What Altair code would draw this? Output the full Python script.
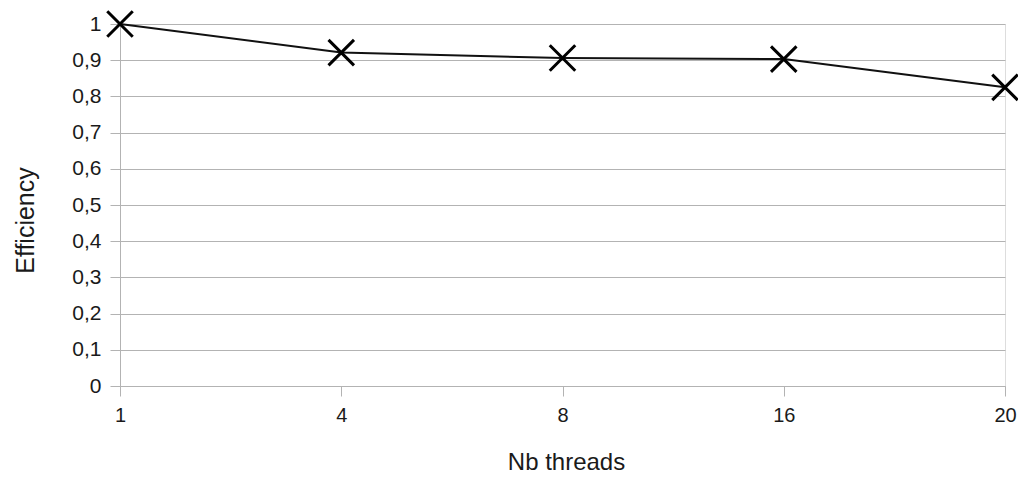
import altair as alt
import pandas as pd

threads = ["1", "4", "8", "16", "20"]
efficiency = [1.0, 0.921, 0.906, 0.903, 0.825]
y_ticks = [0, 0.1, 0.2, 0.3, 0.4, 0.5, 0.6, 0.7, 0.8, 0.9, 1.0]

df = pd.DataFrame({"threads": threads, "eff": efficiency})

FONT = "Liberation Sans"
GRID = "#b3b3b3"
TXT = "#1a1a1a"

x = alt.X(
    "threads:O",
    sort=threads,
    scale=alt.Scale(type="point", padding=0),
    axis=alt.Axis(
        title="Nb threads",
        labelAngle=0,
        grid=False,
        domainColor=GRID,
        tickColor=GRID,
        tickSize=10,
        labelPadding=9,
        labelFont=FONT,
        labelFontSize=20,
        labelColor=TXT,
        titleFont=FONT,
        titleFontSize=24,
        titleFontWeight="normal",
        titleColor=TXT,
        titleX=446,
        titleY=83,
        titleBaseline="alphabetic",
    ),
)
y = alt.Y(
    "eff:Q",
    scale=alt.Scale(domain=[0, 1], nice=False, zero=True),
    axis=alt.Axis(
        title="Efficiency",
        values=y_ticks,
        format=".1~f",
        labelExpr="replace(datum.label, '.', ',')",
        grid=True,
        gridColor=GRID,
        gridWidth=1,
        domainColor=GRID,
        tickColor=GRID,
        tickSize=10,
        labelPadding=9,
        labelFont=FONT,
        labelFontSize=21,
        labelColor=TXT,
        titleFont=FONT,
        titleFontSize=25,
        titleFontWeight="normal",
        titleColor=TXT,
        titleX=-87,
        titleY=196,
        titleAngle=-90,
        titleBaseline="alphabetic",
        titleAlign="center",
    ),
)

line = alt.Chart(df).mark_line(color="#111111", strokeWidth=2).encode(x=x, y=y)
points = alt.Chart(df).mark_point(
    shape="M-1,-1L1,1M-1,1L1,-1",
    size=650,
    filled=False,
    color="#000000",
    strokeWidth=3,
    opacity=1,
).encode(x=x, y=y)

chart = (
    alt.layer(line, points)
    .properties(
        width=885,
        height=362,
        autosize=alt.AutoSizeParams(type="none"),
        padding={"left": 112, "top": 16, "right": 13, "bottom": 88},
    )
    .configure_view(stroke=GRID, strokeWidth=1)
    .configure(background="white")
)

chart.save("out.html", embed_options={"renderer": "svg", "actions": False})
